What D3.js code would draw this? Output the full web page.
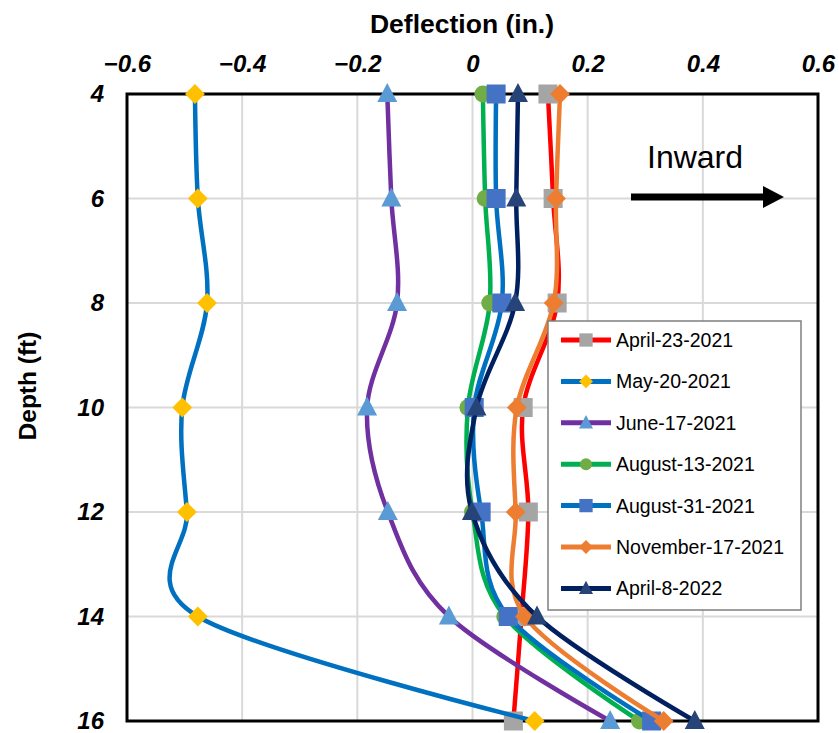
<!DOCTYPE html>
<html><head><meta charset="utf-8">
<script src="https://cdn.jsdelivr.net/npm/d3@7"></script>
<style>body{margin:0;background:#fff}svg{display:block}</style>
</head><body>
<svg id="c" width="839" height="733"></svg>
<script>
const depths = [4, 6, 8, 10, 12, 14, 16];
const xTicks = [-0.6, -0.4, -0.2, 0, 0.2, 0.4, 0.6];
const yTicks = [4, 6, 8, 10, 12, 14, 16];
const seriesNames = ["April-23-2021","May-20-2021","June-17-2021","August-13-2021","August-31-2021","November-17-2021","April-8-2022"];
const apr23 = [0.131, 0.140, 0.147, 0.088, 0.097, 0.085, 0.071];
const may20 = [-0.482, -0.477, -0.461, -0.504, -0.496, -0.477, 0.108];
const jun17 = [-0.148, -0.141, -0.131, -0.183, -0.147, -0.041, 0.239];
const aug13 = [0.018, 0.022, 0.030, -0.008, 0.000, 0.056, 0.290];
const aug31 = [0.041, 0.041, 0.051, 0.003, 0.015, 0.062, 0.311];
const nov17 = [0.152, 0.145, 0.141, 0.077, 0.075, 0.091, 0.332];
const apr8 = [0.079, 0.076, 0.074, 0.007, -0.001, 0.112, 0.386];
const lineColors = ["#FF0000","#0070C0","#7030A0","#00B050","#0070C0","#ED7D31","#002060"];
const markerColors = ["#A5A5A5","#FFC000","#5B9BD5","#70AD47","#4472C4","#ED7D31","#264478"];
const markerShapes = ["square","diamond","triangle","circle","square","diamond","triangle"];
const allValues = [apr23, may20, jun17, aug13, aug31, nov17, apr8];

const FONT = "Liberation Sans, Arial, sans-serif";
const svg = d3.select("#c");
const L = 127, R = 818, T = 94, B = 721;
const x = d3.scaleLinear().domain([-0.6, 0.6]).range([L, R]);
const y = d3.scaleLinear().domain([4, 16]).range([T, B]);

// gridlines
const g = svg.append("g");
g.selectAll(".vg").data(xTicks.slice(1, -1)).enter().append("line")
  .attr("x1", d => x(d)).attr("x2", d => x(d)).attr("y1", T).attr("y2", B)
  .attr("stroke", "#d9d9d9").attr("stroke-width", 2);
g.selectAll(".hg").data(yTicks.slice(1, -1)).enter().append("line")
  .attr("x1", L).attr("x2", R).attr("y1", d => y(d)).attr("y2", d => y(d))
  .attr("stroke", "#d9d9d9").attr("stroke-width", 2);

// axes
const xAxis = d3.axisTop(x).tickValues(xTicks).tickSize(0).tickPadding(22).tickFormat(d => d === 0 ? "0" : d3.format(".1f")(d));
const xa = svg.append("g").attr("transform", `translate(0,${T})`).call(xAxis);
xa.select(".domain").remove();
xa.selectAll("text").attr("font-family", FONT).attr("font-size", 24)
  .attr("font-weight", "bold").attr("font-style", "italic").attr("fill", "#000");
const yAxis = d3.axisLeft(y).tickValues(yTicks).tickSize(0).tickPadding(23);
const ya = svg.append("g").attr("transform", `translate(${L},0)`).call(yAxis);
ya.select(".domain").remove();
ya.selectAll("text").attr("font-family", FONT).attr("font-size", 24)
  .attr("font-weight", "bold").attr("font-style", "italic").attr("fill", "#000");

// plot border
svg.append("rect").attr("x", L).attr("y", T).attr("width", R - L).attr("height", B - T)
  .attr("fill", "none").attr("stroke", "#000").attr("stroke-width", 3);

// titles
svg.append("text").attr("x", 462).attr("y", 33).attr("text-anchor", "middle")
  .attr("font-family", FONT).attr("font-size", 26.5).attr("font-weight", "bold").text("Deflection (in.)");
svg.append("text").attr("transform", `translate(36,386) rotate(-90)`).attr("text-anchor", "middle")
  .attr("font-family", FONT).attr("font-size", 24.5).attr("font-weight", "bold").text("Depth (ft)");

function drawMarker(sel, shape, cx, cy, color, s) {
  if (shape === "square") {
    sel.append("rect").attr("x", cx - s / 2).attr("y", cy - s / 2).attr("width", s).attr("height", s).attr("fill", color);
  } else if (shape === "diamond") {
    const h = s * 0.55;
    sel.append("path").attr("d", `M${cx},${cy - h}L${cx + h},${cy}L${cx},${cy + h}L${cx - h},${cy}Z`).attr("fill", color);
  } else if (shape === "triangle") {
    const h = s * 0.5;
    sel.append("path").attr("d", `M${cx},${cy - h * 1.1}L${cx + h},${cy + h * 0.8}L${cx - h},${cy + h * 0.8}Z`).attr("fill", color);
  } else {
    sel.append("circle").attr("cx", cx).attr("cy", cy).attr("r", s / 2).attr("fill", color);
  }
}
const sizes = {square: 19, diamond: 18, triangle: 20, circle: 17};

const line = d3.line().x(d => x(d[0])).y(d => y(d[1])).curve(d3.curveCardinal.tension(0));
const plot = svg.append("g");
allValues.forEach((vals, i) => {
  const pts = vals.map((v, j) => [v, depths[j]]);
  const sg = plot.append("g");
  sg.append("path").attr("d", line(pts)).attr("fill", "none").attr("stroke", lineColors[i]).attr("stroke-width", 4.5);
  pts.forEach(p => drawMarker(sg, markerShapes[i], x(p[0]), y(p[1]), markerColors[i], sizes[markerShapes[i]]));
});

// Inward annotation
svg.append("text").attr("x", 647).attr("y", 168).attr("font-family", FONT).attr("font-size", 32).text("Inward");
svg.append("line").attr("x1", 631).attr("x2", 765).attr("y1", 197).attr("y2", 197).attr("stroke", "#000").attr("stroke-width", 7);
svg.append("path").attr("d", "M763,186L784,197L763,208Z").attr("fill", "#000");

// legend
const lg = svg.append("g");
lg.append("rect").attr("x", 548).attr("y", 321).attr("width", 253).attr("height", 289).attr("fill", "#fff").attr("stroke", "#7f7f7f").attr("stroke-width", 1.5);
seriesNames.forEach((name, i) => {
  const ly = 340 + i * 41.4;
  lg.append("line").attr("x1", 561).attr("x2", 611).attr("y1", ly).attr("y2", ly).attr("stroke", lineColors[i]).attr("stroke-width", 5);
  drawMarker(lg, markerShapes[i], 586, ly, markerColors[i], sizes[markerShapes[i]] * 0.7);
  lg.append("text").attr("x", 616).attr("y", ly + 7).attr("font-family", FONT).attr("font-size", 19.5).attr("fill", "#000").text(name);
});
</script>
</body></html>
